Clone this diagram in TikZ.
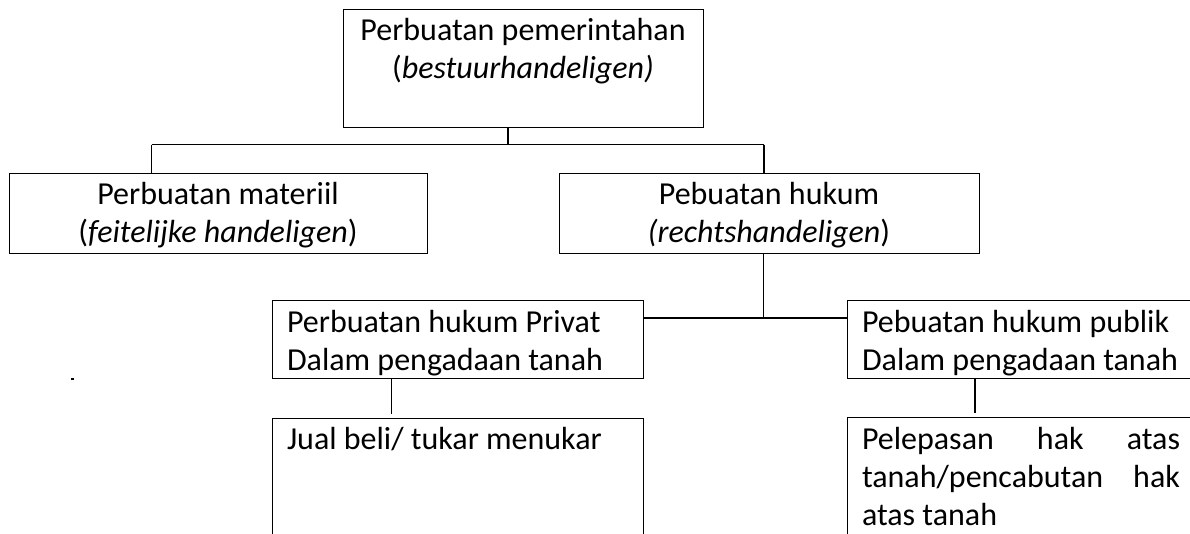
\documentclass[tikz,border=0pt]{standalone}
\usepackage{fontspec}
\setmainfont{Carlito}
\begin{document}
\begin{tikzpicture}[x=1pt,y=-1pt,
  box/.style={draw, line width=0.9pt, inner sep=0pt, outer sep=0pt, anchor=north west},
  txt/.style={font=\fontsize{32}{38}\selectfont, inner sep=0pt, outer sep=0pt, anchor=base},
  txtl/.style={txt, anchor=base west},
  conn/.style={line width=1.8pt},
  connthin/.style={line width=1.1pt}]
\useasboundingbox (0,0) rectangle (1190,533);
\clip (0,0) rectangle (1190,533);
% boxes
\node[box, minimum width=360pt, minimum height=118pt] (top) at (343,9) {};
\node[box, minimum width=418pt, minimum height=80pt] (mat) at (9,173) {};
\node[box, minimum width=420pt, minimum height=80pt] (huk) at (559,173) {};
\node[box, minimum width=371pt, minimum height=78pt] (priv) at (272,300) {};
\node[box, minimum width=400pt, minimum height=78pt] (pub) at (847,300) {};
\node[box, minimum width=371pt, minimum height=150pt] (jual) at (272,418) {};
\node[box, minimum width=400pt, minimum height=150pt] (lepas) at (847,417.5) {};
% texts
\node[txt] (t1) at (523,40) {Perbuatan pemerintahan};
\node[txt] (t2) at (523,78) {(\textit{bestuurhandeligen)}};
\node[txt] (m1) at (218,204) {Perbuatan materiil};
\node[txt] (m2) at (218,242) {(\textit{feitelijke handeligen})};
\node[txt] (h1) at (769,204) {Pebuatan hukum};
\node[txt] (h2) at (769,242) {\textit{(rechtshandeligen})};
\node[txtl] (p1) at (287,332) {Perbuatan hukum Privat};
\node[txtl] (p2) at (287,370) {Dalam pengadaan tanah};
\node[txtl] (q1) at (862,332) {Pebuatan hukum publik};
\node[txtl] (q2) at (862,370) {Dalam pengadaan tanah};
\node[txtl] (j1) at (287,449.5) {Jual beli/ tukar menukar};
\node[txtl] (l1) at (862,449.5) {\makebox[318pt][s]{Pelepasan hak atas}};
\node[txtl] (l2) at (862,487.5) {\makebox[318pt][s]{tanah/pencabutan hak}};
\node[txtl] (l3) at (862,525.5) {atas tanah};
% connectors
\coordinate (a) at (508,144.5);
\coordinate (bl) at (151.5,144.5);
\coordinate (br) at (764,144.5);
\coordinate (c) at (763.5,317.7);
\coordinate (d) at (391.5,400);
\coordinate (e) at (975,400);
\draw[conn] (top.south -| a) -- (a);
\draw[conn] (bl) -- (br);
\draw[connthin] (bl) -- (bl |- mat.north);
\draw[conn] (br) -- (br |- huk.north);
\draw[conn] (huk.south -| c) -- (c);
\draw[conn] (priv.east |- c) -- (pub.west |- c);
\draw[connthin, shorten >=4.5pt] (priv.south -| d) -- (jual.north -| d);
\draw[connthin, shorten >=4.5pt] (pub.south -| e) -- (lepas.north -| e);
% stray mark
\fill (71,378) rectangle (74,380);
\end{tikzpicture}
\end{document}
